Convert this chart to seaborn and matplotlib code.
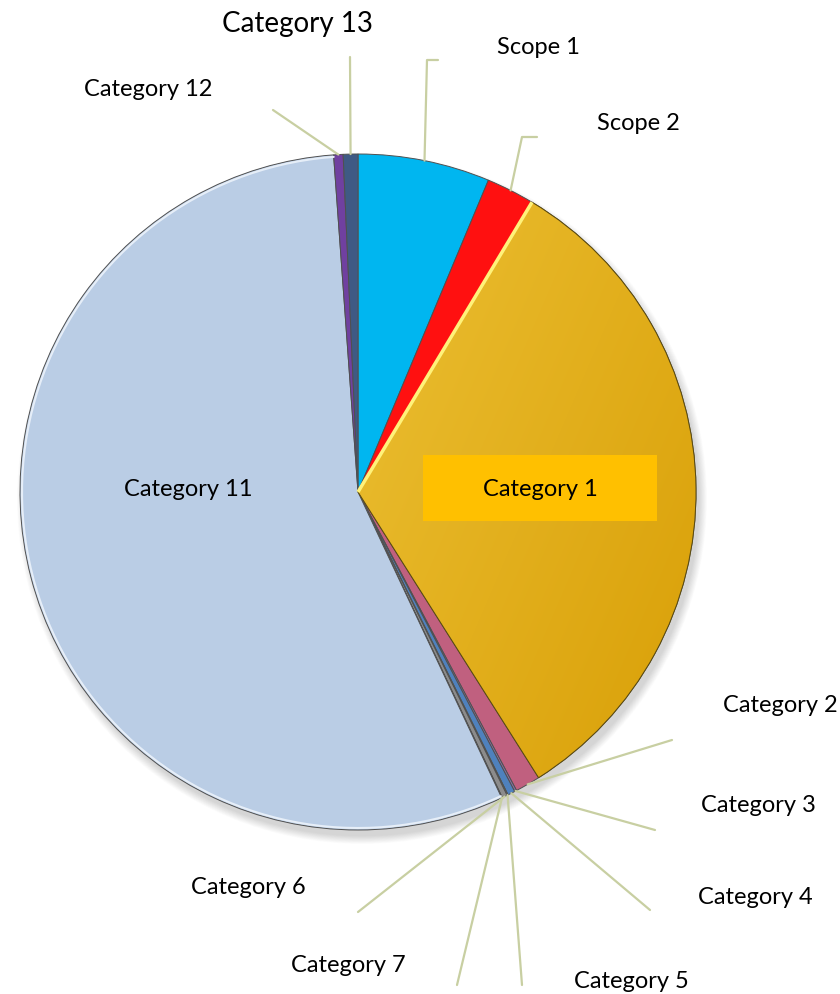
import numpy as np
import matplotlib
matplotlib.use("Agg")
import matplotlib.pyplot as plt
import seaborn as sns
from matplotlib.patches import Circle

# ---- data ----
categories = ["Scope 1", "Scope 2", "Category 1", "Category 2", "Category 3",
              "Category 4", "Category 5", "Category 6", "Category 7",
              "Category 11", "Category 12", "Category 13"]
values = [6.3, 2.3, 32.4, 1.2, 0.1, 0.35, 0.05, 0.25, 0.03, 55.8, 0.45, 0.7]
colors = ["#00B6F0", "#FF1010", "#E4B01C", "#C0607F", "#8A6FA8",
          "#4F81BD", "#9BBB59", "#8C8C8C", "#4BACC6",
          "#BACDE5", "#7040A0", "#3F5A84"]

sns.set_theme(style="white")
plt.rcParams["font.family"] = ["Lato", "DejaVu Sans"]

W, H = 840, 994
fig = plt.figure(figsize=(W / 100, H / 100), dpi=100)
ax = fig.add_axes([0, 0, 1, 1])

def P(x, y):
    return (x, H - y)

cx, cy = P(358, 492)
R = 338

# soft shadow
for k in range(14):
    ax.add_patch(Circle((cx + 4, cy - 7), R + 7 - k * 0.6, color="black",
                        alpha=0.012, lw=0, zorder=0))

wedges, _ = ax.pie(values, colors=colors, startangle=90, counterclock=False,
                   center=(cx, cy), radius=R, frame=True,
                   wedgeprops=dict(edgecolor="#505050", linewidth=0.7))
for w in wedges:
    w.set_zorder(2)

# gradient on Category 1
gy, gx = np.mgrid[0:1:200j, 0:1:200j]
t = 0.55 * gx + 0.45 * gy
c0 = np.array([0xEC, 0xC0, 0x34]) / 255
c1 = np.array([0xD8, 0x9E, 0x05]) / 255
img = c0[None, None, :] * (1 - t[..., None]) + c1[None, None, :] * t[..., None]
im = ax.imshow(img, extent=[cx, cx + R, cy - R, cy + R * 0.9], origin="upper",
               zorder=2.5, interpolation="bilinear")
im.set_clip_path(wedges[2])
ax.add_patch(matplotlib.patches.Wedge((cx, cy), R, wedges[2].theta1, wedges[2].theta2,
                                      fill=False, edgecolor="#5a4a10", lw=0.7, zorder=3))

# light highlight line between Scope 2 and Category 1
th = np.deg2rad(wedges[2].theta2)
ax.plot([cx, cx + R * np.cos(th)], [cy, cy + R * np.sin(th)],
        color="#FFF27A", lw=2.5, zorder=3.2, solid_capstyle="butt")

# rim highlight on Category 11
w11 = wedges[9]
arc_t = np.deg2rad(np.linspace(w11.theta1, w11.theta2, 200))
ax.plot(cx + (R - 2) * np.cos(arc_t), cy + (R - 2) * np.sin(arc_t),
        color="#E6EEF8", lw=1.5, zorder=3.1)

# ---- labels ----
line_c = "#C8CFA2"
layout = {
    "Scope 1": ((538, 48), [(427, 60), (438, 60)]),
    "Scope 2": ((638, 124), [(522, 137), (537, 137)]),
    "Category 2": ((780, 706), [(672, 740)]),
    "Category 3": ((758, 805), [(655, 830)]),
    "Category 4": ((755, 898), [(650, 910)]),
    "Category 5": ((631, 981), [(522, 985)]),
    "Category 6": ((248, 888), [(358, 912)]),
    "Category 7": ((348, 965), [(457, 985)]),
    "Category 12": ((148, 89), [(273, 110)]),
    "Category 13": ((297, 24), [(350, 57)]),
}

for w, name in zip(wedges, categories):
    mid = np.deg2rad((w.theta1 + w.theta2) / 2)
    if name in layout:
        (tx, ty), path = layout[name]
        sx, sy = cx + R * np.cos(mid), cy + R * np.sin(mid)
        xs = [sx] + [P(*p)[0] for p in path]
        ys = [sy] + [P(*p)[1] for p in path]
        ax.plot(xs, ys, color=line_c, lw=1.6, zorder=4)
        fs = 20 if name == "Category 13" else 17
        ax.text(*P(tx, ty), name, ha="center", va="center", fontsize=fs,
                color="black", zorder=5)

# inside labels
ax.text(*P(188, 490), "Category 11", ha="center", va="center", fontsize=17,
        color="black", zorder=5)
ax.add_patch(matplotlib.patches.Rectangle(P(423, 521), 234, 66, color="#FFC000",
                                          lw=0, zorder=4))
ax.text(*P(540, 489), "Category 1", ha="center", va="center", fontsize=17,
        color="black", zorder=5)

ax.set_xlim(0, W)
ax.set_ylim(0, H)
ax.set_aspect("auto")
ax.axis("off")
fig.savefig("out.png", dpi=100, facecolor="white")
